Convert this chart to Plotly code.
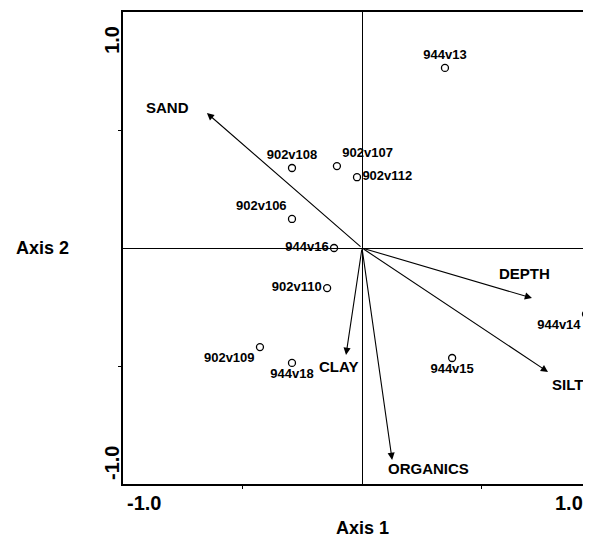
import plotly.graph_objects as go

# site scores (Axis 1, Axis 2)
site_names = ["944v13", "902v108", "902v107", "902v112", "902v106", "944v16",
              "902v110", "902v109", "944v18", "944v15", "944v14"]
site_x = [0.347, -0.293, -0.105, -0.021, -0.293, -0.117, -0.146, -0.427, -0.293, 0.377, 0.937]
site_y = [0.763, 0.339, 0.347, 0.300, 0.123, 0.000, -0.170, -0.420, -0.487, -0.466, -0.280]

# environmental vectors
var_names = ["SAND", "DEPTH", "SILT", "CLAY", "ORGANICS"]
var_x = [-0.649, 0.711, 0.778, -0.067, 0.126]
var_y = [0.572, -0.212, -0.525, -0.453, -0.898]

# label placement (style only)
site_textpos = ["top center", "top center", "top right", "middle right", "top left",
                "middle left", "middle left", "bottom left", "bottom center",
                "bottom center", "bottom left"]
var_shift = {"SAND": (-39, 6), "DEPTH": (-7, 25), "SILT": (20, -13),
             "CLAY": (-8, -12), "ORGANICS": (36, -9)}

FONT = "Liberation Sans, Arial, sans-serif"

fig = go.Figure()

fig.add_trace(go.Scatter(
   x=site_x, y=site_y, mode="markers+text",
   text=site_names, textposition=site_textpos,
   textfont=dict(family=FONT, size=13, color="black", weight="bold"),
   marker=dict(symbol="circle-open", size=7, color="black", line=dict(width=1.3)),
   cliponaxis=False, showlegend=False, hoverinfo="skip"))

annotations = []
for name, vx, vy in zip(var_names, var_x, var_y):
   # arrow from origin to loading
   annotations.append(dict(
      x=vx, y=vy, ax=0, ay=0, xref="x", yref="y", axref="x", ayref="y",
      text="", showarrow=True, arrowhead=2, arrowsize=1.3, arrowwidth=1.1,
      arrowcolor="black", standoff=0, startstandoff=0))
   dx, dy = var_shift[name]
   annotations.append(dict(
      x=vx, y=vy, xref="x", yref="y", text="<b>" + name + "</b>", showarrow=False,
      xshift=dx, yshift=dy, xanchor="center", yanchor="middle",
      font=dict(family=FONT, size=15, color="black")))

# tick labels and axis titles
tick_font = dict(family=FONT, size=20, color="black")
title_font = dict(family=FONT, size=18, color="black")
annotations += [
   dict(x=0.004, y=-0.040, xref="paper", yref="paper", text="<b>-1.0</b>", showarrow=False,
        xanchor="left", yanchor="middle", font=tick_font),
   dict(x=0.987, y=-0.040, xref="paper", yref="paper", text="<b>1.0</b>", showarrow=False,
        xanchor="right", yanchor="middle", font=tick_font),
   dict(x=-0.0235, y=0.941, xref="paper", yref="paper", text="<b>1.0</b>", showarrow=False,
        xanchor="center", yanchor="middle", textangle=-90, font=tick_font),
   dict(x=-0.0235, y=0.0445, xref="paper", yref="paper", text="<b>-1.0</b>", showarrow=False,
        xanchor="center", yanchor="middle", textangle=-90, font=tick_font),
   dict(x=0.511, y=-0.094, xref="paper", yref="paper", text="<b>Axis 1</b>", showarrow=False,
        xanchor="center", yanchor="middle", font=title_font),
   dict(x=-0.173, y=0.5, xref="paper", yref="paper", text="<b>Axis 2</b>", showarrow=False,
        xanchor="center", yanchor="middle", font=title_font),
]

fig.update_xaxes(range=[-1.0, 0.958], showgrid=False, zeroline=True, zerolinecolor="black",
                 zerolinewidth=1.2, showline=True, linecolor="black", linewidth=1.5, mirror=True,
                 ticks="outside", ticklen=3, tickcolor="black", tickvals=[-0.5, 0.5],
                 showticklabels=False)
fig.update_yaxes(range=[-1.0, 1.0], showgrid=False, zeroline=True, zerolinecolor="black",
                 zerolinewidth=1.2, showline=True, linecolor="black", linewidth=1.5, mirror=False,
                 ticks="outside", ticklen=3, tickcolor="black", tickvals=[-0.5, 0.5],
                 showticklabels=False)

# page body adds an 8px margin, so the figure is sized to fit the window
fig.update_layout(
   width=583, height=530,
   margin=dict(l=115, r=0, t=4, b=54),
   paper_bgcolor="white", plot_bgcolor="white",
   showlegend=False,
   annotations=annotations,
)

fig.write_html("out.html")
